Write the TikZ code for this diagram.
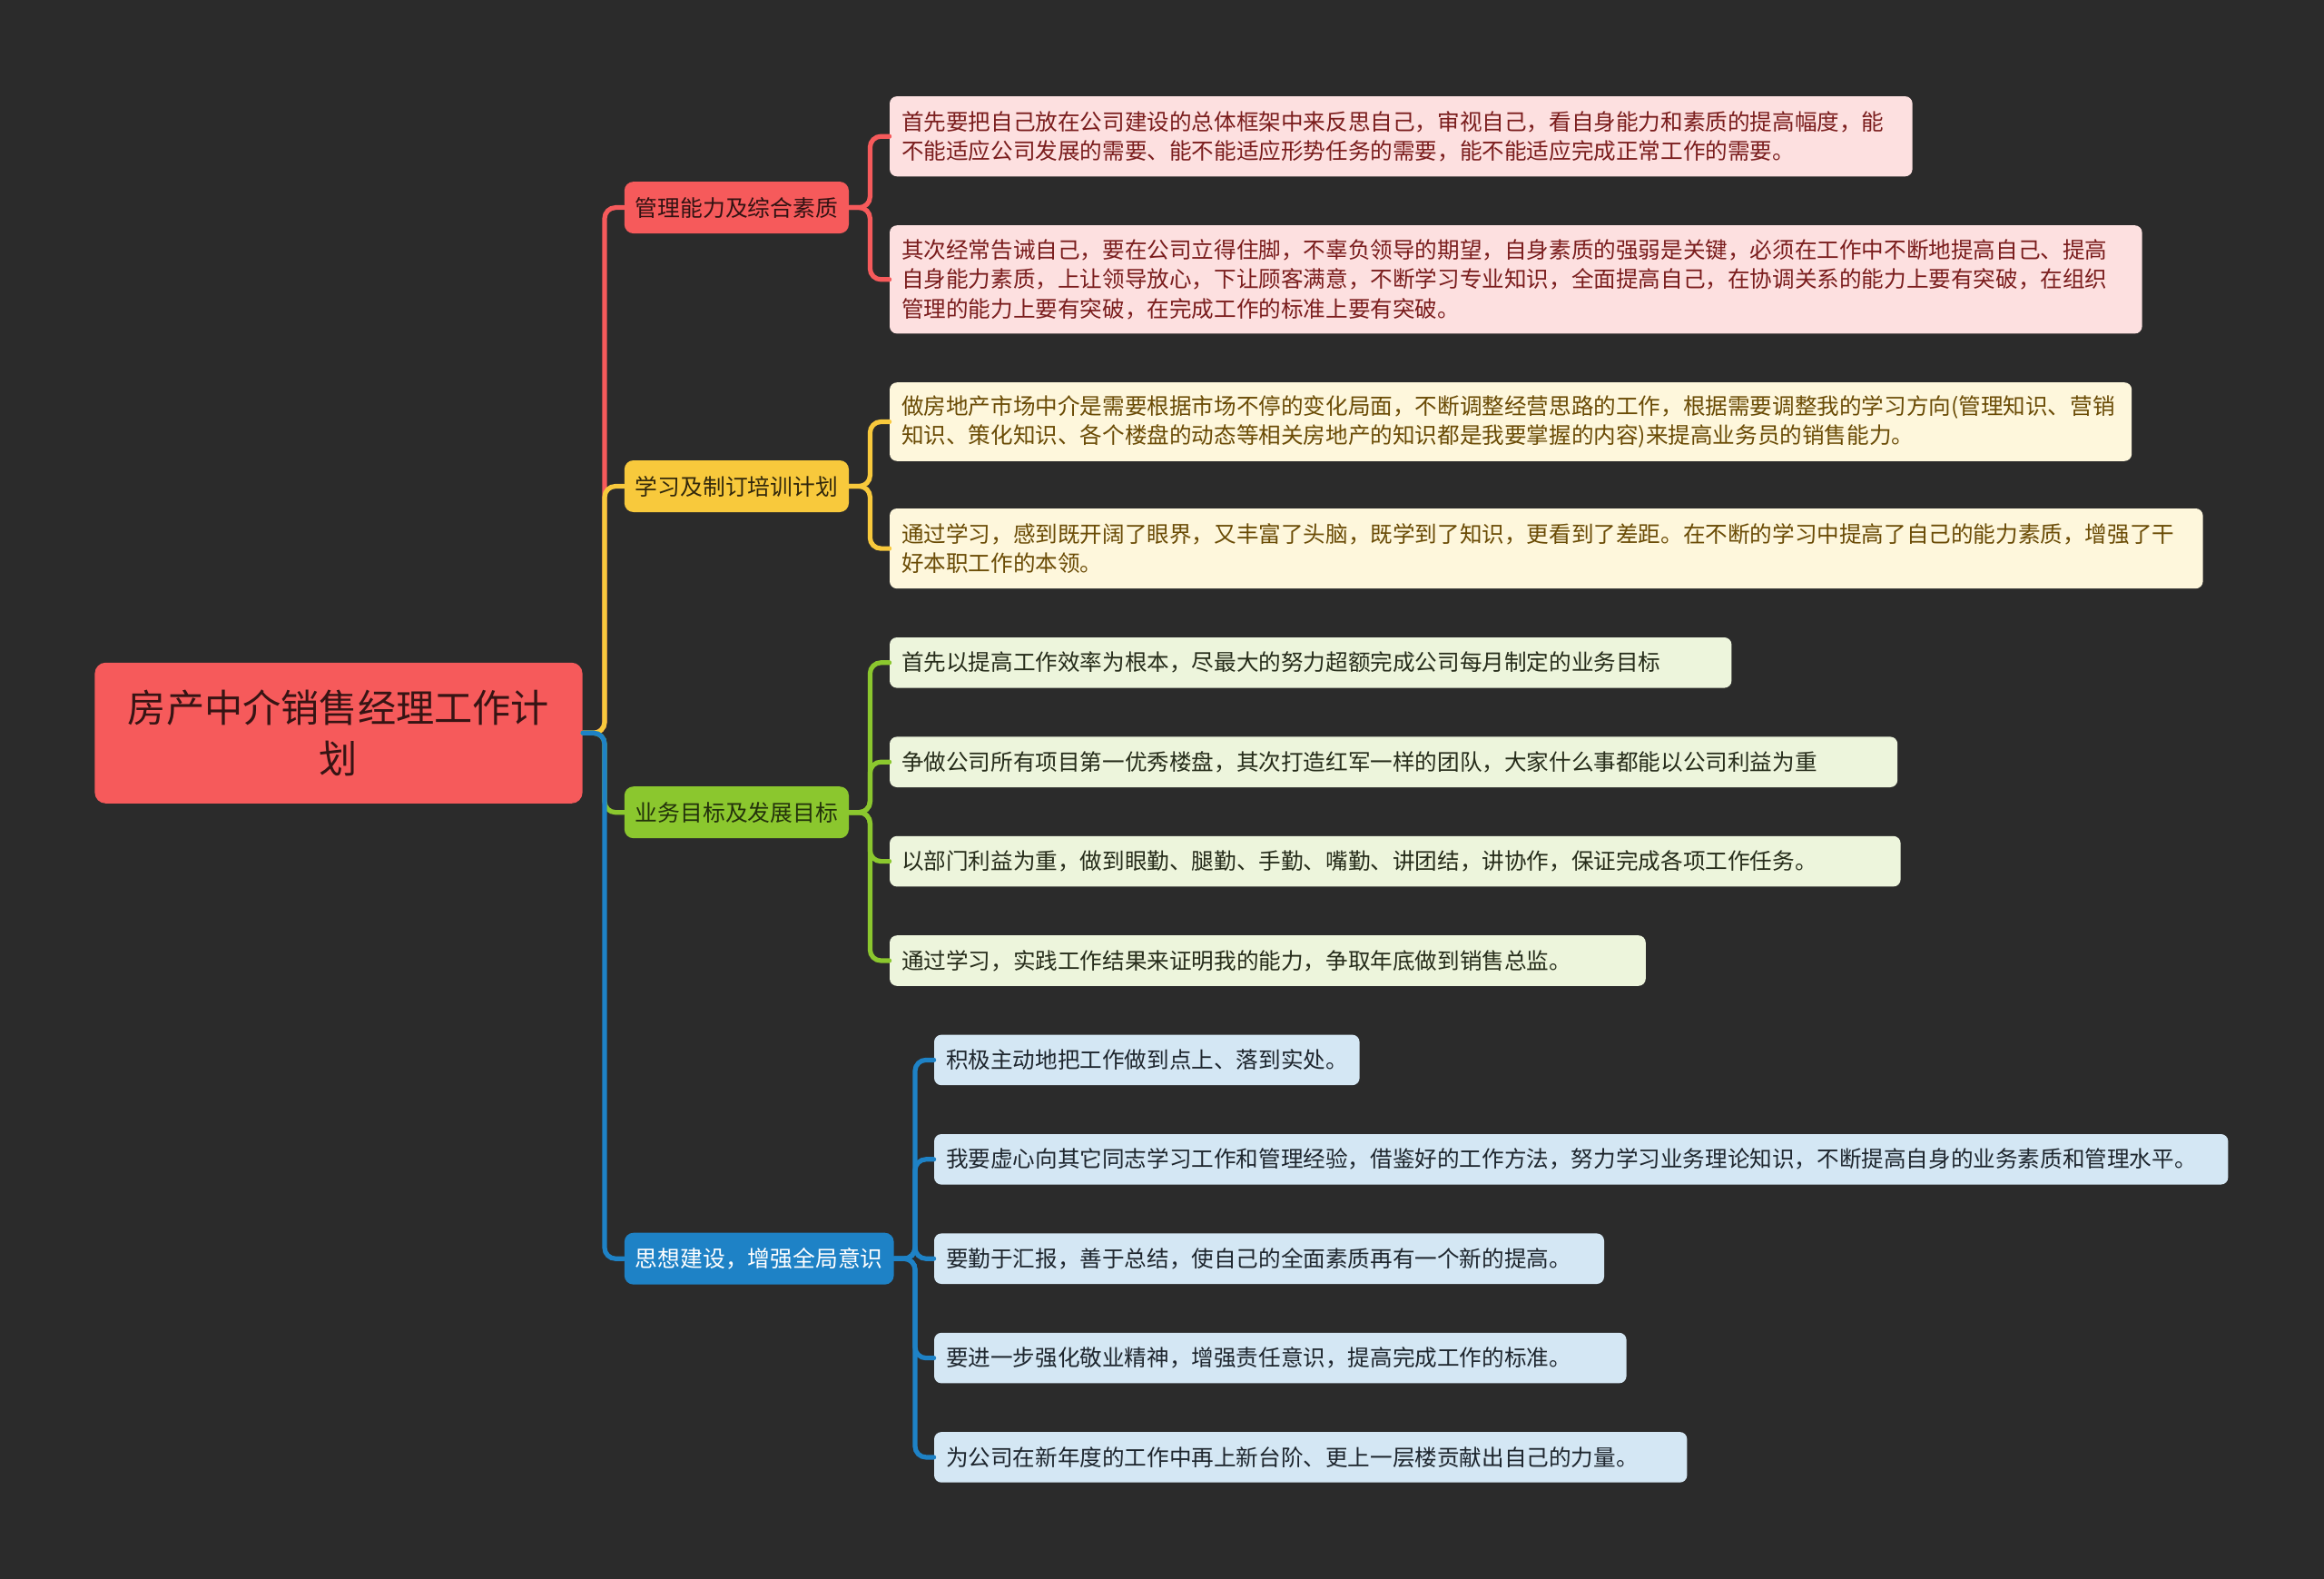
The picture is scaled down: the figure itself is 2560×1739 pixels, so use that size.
\documentclass[tikz,border=0pt]{standalone}
\usepackage{fontspec}
\setmainfont{Noto Sans CJK SC}

\definecolor{bgc}{HTML}{2B2B2B}
\definecolor{redc}{HTML}{F65A5B}
\definecolor{redl}{HTML}{FDE0E0}
\definecolor{redt}{HTML}{7A1D1D}
\definecolor{yelc}{HTML}{F8C93C}
\definecolor{yell}{HTML}{FEF7DC}
\definecolor{yelt}{HTML}{6A4B05}
\definecolor{grnc}{HTML}{8BC72E}
\definecolor{grnl}{HTML}{EDF5DC}
\definecolor{grnt}{HTML}{262C1A}
\definecolor{bluc}{HTML}{1E82C6}
\definecolor{blul}{HTML}{D4E7F4}
\definecolor{blut}{HTML}{1E262E}

\tikzset{
  rootbox/.style={fill=redc, rounded corners=6pt, align=center, text=black!78!redc,
    minimum width=268.6pt, minimum height=77.5pt, inner sep=0pt,
    font=\fontsize{21.1}{27.7}\selectfont},
  topic/.style={anchor=west, rounded corners=5pt, minimum height=28.5pt,
    inner xsep=6pt, inner ysep=0pt, font=\fontsize{12.4}{15}\selectfont},
  leaf/.style={anchor=west, rounded corners=4pt, align=left, minimum height=27.8pt,
    inner xsep=6.5pt, inner ysep=0pt, font=\fontsize{12.3}{16.3}\selectfont},
  ln/.style={line width=2.6pt, rounded corners=6pt},
}

\begin{document}
\begin{tikzpicture}[x=0.5pt,y=-0.5pt,line cap=round]

  % ---- sfondo ----------------------------------------------------------------
  \fill[bgc] (0,0) rectangle (2560,1739);

  % ---- radice ----------------------------------------------------------------
  \node[rootbox] (root) at (373,807.3) {房产中介销售经理工作计\\划};

  % ---- rami principali -------------------------------------------------------
  \node[topic, fill=redc, text=black!80!redc] (mgmt)  at (687.4,228.6)  {管理能力及综合素质};
  \node[topic, fill=yelc, text=black!80!yelc] (study) at (687.4,535.5)  {学习及制订培训计划};
  \node[topic, fill=grnc, text=black!75!grnc] (goal)  at (687.4,894.7)  {业务目标及发展目标};
  \node[topic, fill=bluc, text=white]         (idea)  at (687.4,1386.2) {思想建设，增强全局意识};

  % ---- foglie:管理能力 --------------------------------------------------------
  \node[leaf, fill=redl, text=redt, text width=550.3pt, minimum height=44.1pt] (m1) at (979.6,150.2)
    {首先要把自己放在公司建设的总体框架中来反思自己，审视自己，看自身能力和素质的提高幅度，能\\不能适应公司发展的需要、能不能适应形势任务的需要，能不能适应完成正常工作的需要。};
  \node[leaf, fill=redl, text=redt, text width=676.8pt, minimum height=59.6pt] (m2) at (979.6,307.8)
    {其次经常告诫自己，要在公司立得住脚，不辜负领导的期望，自身素质的强弱是关键，必须在工作中不断地提高自己、提高\\自身能力素质，上让领导放心，下让顾客满意，不断学习专业知识，全面提高自己，在协调关系的能力上要有突破，在组织\\管理的能力上要有突破，在完成工作的标准上要有突破。};

  % ---- foglie: 学习 -----------------------------------------------------------
  \node[leaf, fill=yell, text=yelt, text width=671.1pt, minimum height=43.3pt] (s1) at (979.6,464.5)
    {做房地产市场中介是需要根据市场不停的变化局面，不断调整经营思路的工作，根据需要调整我的学习方向(管理知识、营销\\知识、策化知识、各个楼盘的动态等相关房地产的知识都是我要掌握的内容)来提高业务员的销售能力。};
  \node[leaf, fill=yell, text=yelt, text width=710.3pt, minimum height=44.1pt] (s2) at (979.6,604.1)
    {通过学习，感到既开阔了眼界，又丰富了头脑，既学到了知识，更看到了差距。在不断的学习中提高了自己的能力素质，增强了干\\好本职工作的本领。};

  % ---- foglie: 业务目标 --------------------------------------------------------
  \node[leaf, fill=grnl, text=grnt, text width=450.7pt] (g1) at (979.6,729.8)
    {首先以提高工作效率为根本，尽最大的努力超额完成公司每月制定的业务目标};
  \node[leaf, fill=grnl, text=grnt, text width=542.1pt] (g2) at (979.6,839.2)
    {争做公司所有项目第一优秀楼盘，其次打造红军一样的团队，大家什么事都能以公司利益为重};
  \node[leaf, fill=grnl, text=grnt, text width=543.8pt] (g3) at (979.6,948.6)
    {以部门利益为重，做到眼勤、腿勤、手勤、嘴勤、讲团结，讲协作，保证完成各项工作任务。};
  \node[leaf, fill=grnl, text=grnt, text width=403.4pt] (g4) at (979.6,1058)
    {通过学习，实践工作结果来证明我的能力，争取年底做到销售总监。};

  % ---- foglie: 思想建设 --------------------------------------------------------
  \node[leaf, fill=blul, text=blut, text width=221.3pt] (i1) at (1028.6,1167.4)
    {积极主动地把工作做到点上、落到实处。};
  \node[leaf, fill=blul, text=blut, text width=699.7pt] (i2) at (1028.6,1276.8)
    {我要虚心向其它同志学习工作和管理经验，借鉴好的工作方法，努力学习业务理论知识，不断提高自身的业务素质和管理水平。};
  \node[leaf, fill=blul, text=blut, text width=356pt] (i3) at (1028.6,1386.2)
    {要勤于汇报，善于总结，使自己的全面素质再有一个新的提高。};
  \node[leaf, fill=blul, text=blut, text width=368.3pt] (i4) at (1028.6,1495.6)
    {要进一步强化敬业精神，增强责任意识，提高完成工作的标准。};
  \node[leaf, fill=blul, text=blut, text width=401.7pt] (i5) at (1028.6,1604.9)
    {为公司在新年度的工作中再上新台阶、更上一层楼贡献出自己的力量。};

  % ---- collegamenti radice -> rami --------------------------------------------
  \draw[ln, redc] (root.east) -- ++(24,0) |- (mgmt.west);
  \draw[ln, yelc] (root.east) -- ++(24,0) |- (study.west);
  \draw[ln, grnc] (root.east) -- ++(24,0) |- (goal.west);
  \draw[ln, bluc] (root.east) -- ++(24,0) |- (idea.west);

  % ---- collegamenti rami -> foglie ---------------------------------------------
  \foreach \f in {m1,m2}       {\draw[ln, redc] (mgmt.east)  -- ++(23,0) |- (\f.west);}
  \foreach \f in {s1,s2}       {\draw[ln, yelc] (study.east) -- ++(23,0) |- (\f.west);}
  \foreach \f in {g1,g2,g3,g4} {\draw[ln, grnc] (goal.east)  -- ++(23,0) |- (\f.west);}
  \foreach \f in {i1,i2,i3,i4,i5} {\draw[ln, bluc] (idea.east) -- ++(23,0) |- (\f.west);}

\end{tikzpicture}
\end{document}
